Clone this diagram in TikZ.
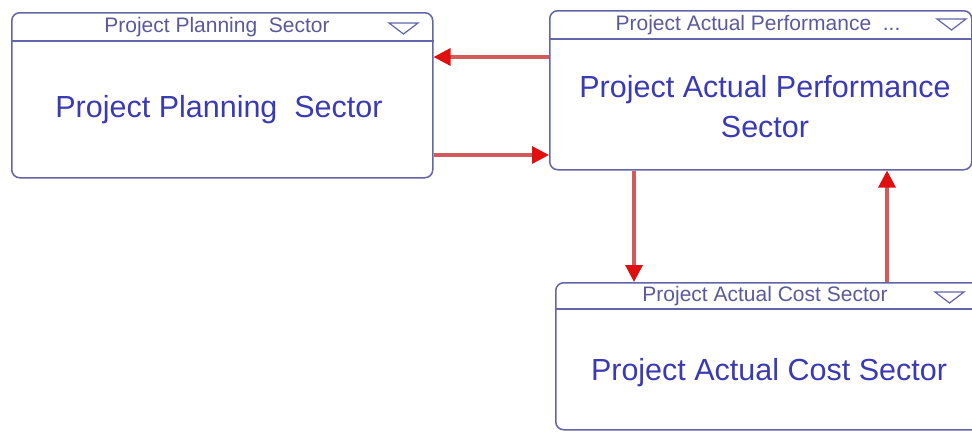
\documentclass[tikz,border=0pt]{standalone}
\usepackage{fontspec}
\setmainfont{Liberation Sans}
\usetikzlibrary{arrows.meta}
\definecolor{boxline}{HTML}{6464A8}
\definecolor{bigtext}{HTML}{3A3AB4}
\definecolor{hdrtext}{HTML}{5A5A9A}
\definecolor{arrred}{HTML}{D25A5A}
\definecolor{headred}{HTML}{E01010}
\tikzset{
  sectorbox/.style={draw=boxline, line width=1.5pt, rounded corners=8pt, rectangle, inner sep=0pt, anchor=north west},
  hdr/.style={text=hdrtext, font=\fontsize{21}{24}\selectfont, inner sep=0pt},
  big/.style={text=bigtext, font=\fontsize{30.5}{40}\selectfont, inner sep=0pt, align=center},
  hline/.style={draw=boxline, line width=1.5pt},
  tri/.style={draw=boxline, line width=1.2pt},
  flow/.style={draw=arrred, line width=3.2pt, -{Triangle[length=17pt,width=17pt,fill=headred,color=headred]}}
}
\begin{document}
\begin{tikzpicture}[x=1pt,y=-1pt]
\useasboundingbox (0,0) rectangle (972,432);
\clip (0,0) rectangle (972,432);
% boxes
\node[sectorbox, minimum width=421pt, minimum height=165pt] (b1) at (11,12) {};
\node[sectorbox, minimum width=422pt, minimum height=159pt] (b2) at (549,10) {};
\node[sectorbox, minimum width=425pt, minimum height=147pt] (b3) at (555,282) {};
% header lines
\draw[hline] (b1.west |- 0,41) -- (b1.east |- 0,41);
\draw[hline] (b2.west |- 0,39) -- (b2.east |- 0,39);
\draw[hline] (b3.west |- 0,309) -- (b3.east |- 0,309);
% triangles
\draw[tri] (389,23) -- (418,23) -- (403.5,34) -- cycle;
\draw[tri] (937,19) -- (966,19) -- (951.5,30) -- cycle;
\draw[tri] (935,292) -- (964,292) -- (949.5,303) -- cycle;
% header texts
\node[hdr] (h1) at (217,27) {Project Planning\ \ Sector};
\node[hdr] (h2) at (758,25) {Project Actual Performance\ \ ...};
\node[hdr] (h3) at (765,296) {Project Actual Cost Sector};
% main texts
\node[big] (t1) at (219,110) {Project Planning\ \ Sector};
\node[big] (t2) at (765,107) {Project Actual Performance\\Sector};
\node[big] (t3) at (769,373) {Project Actual Cost Sector};
% arrows
\draw[flow] (b2.west |- 0,57) -- (b1.east |- 0,57);
\draw[flow] (b1.east |- 0,155) -- (b2.west |- 0,155);
\draw[flow] (b2.south -| 634,0) -- (b3.north -| 634,0);
\draw[flow] (b3.north -| 887,0) -- (b2.south -| 887,0);
\end{tikzpicture}
\end{document}
